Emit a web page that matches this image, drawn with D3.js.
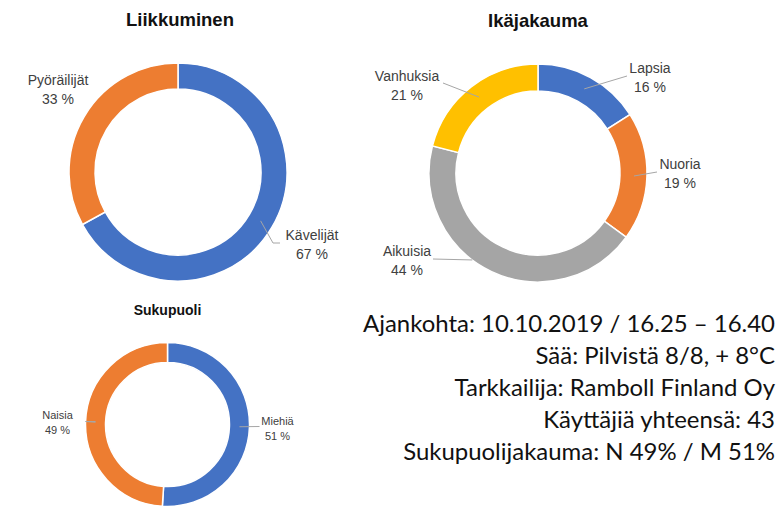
<!DOCTYPE html>
<html>
<head>
<meta charset="utf-8">
<script src="https://cdn.jsdelivr.net/npm/d3@7"></script>
<style>
  html, body { margin: 0; padding: 0; background: #fff; }
  svg { display: block; }
</style>
</head>
<body>
<svg id="chart" width="782" height="507"></svg>
<script>
// Liikkuminen (mode of travel)
const moveLabels = ["Kävelijät", "Pyöräilijät"];
const moveValues = [67, 33];
const moveColors = ["#4472C4", "#ED7D31"];

// Ikäjakauma (age distribution)
const ageLabels = ["Lapsia", "Nuoria", "Aikuisia", "Vanhuksia"];
const ageValues = [16, 19, 44, 21];
const ageColors = ["#4472C4", "#ED7D31", "#A5A5A5", "#FFC000"];

// Sukupuoli (gender)
const genderLabels = ["Miehiä", "Naisia"];
const genderValues = [51, 49];
const genderColors = ["#4472C4", "#ED7D31"];

// Info lines
const infoLines = [
  "Ajankohta: 10.10.2019 / 16.25 – 16.40",
  "Sää: Pilvistä 8/8, + 8°C",
  "Tarkkailija: Ramboll Finland Oy",
  "Käyttäjiä yhteensä: 43",
  "Sukupuolijakauma: N 49% / M 51%"
];

const svg = d3.select("#chart");
const FONT = "Liberation Sans, Arial, sans-serif";

function donut(cfg) {
  const g = svg.append("g").attr("transform", `translate(${cfg.cx},${cfg.cy})`);
  const data = cfg.labels.map((l, i) => ({ label: l, value: cfg.values[i], color: cfg.colors[i] }));
  const pie = d3.pie().sort(null).value(d => d.value);
  const arcs = pie(data);
  const arc = d3.arc().innerRadius(cfg.inner).outerRadius(cfg.outer);
  const mid = d3.arc().innerRadius(cfg.anchorR).outerRadius(cfg.anchorR);

  g.selectAll("path.slice").data(arcs).join("path")
    .attr("class", "slice")
    .attr("d", arc)
    .attr("fill", d => d.data.color)
    .attr("stroke", "#fff")
    .attr("stroke-width", 1.5);

  svg.append("text")
    .attr("x", cfg.cx + (cfg.titleDx || 0))
    .attr("y", cfg.titleY)
    .attr("text-anchor", "middle")
    .attr("font-family", FONT)
    .attr("font-weight", "bold")
    .attr("font-size", cfg.titleSize)
    .attr("fill", "#111")
    .text(cfg.title);

  arcs.forEach((a, i) => {
    const L = cfg.labelPos[i];
    // leader line from the slice to the label
    if (L.leader) {
      let start;
      if (L.anchorAngle !== undefined) {
        const ang = L.anchorAngle * 2 * Math.PI;
        start = [Math.sin(ang) * cfg.outer, -Math.cos(ang) * cfg.outer];
      } else {
        start = mid.centroid(a);
      }
      const pts = [start].concat(L.leader.map(p => [p[0], p[1]]));
      g.append("path")
        .attr("d", d3.line()(pts))
        .attr("fill", "none")
        .attr("stroke", "#A6A6A6")
        .attr("stroke-width", 1);
    }
    const t = g.append("text")
      .attr("text-anchor", "middle")
      .attr("font-family", FONT)
      .attr("font-size", cfg.labelSize)
      .attr("fill", "#404040");
    t.append("tspan").attr("x", L.x).attr("y", L.y).text(a.data.label);
    t.append("tspan").attr("x", L.x).attr("y", L.y + cfg.lineGap).text(a.data.value + " %");
  });
}

donut({
  title: "Liikkuminen", titleY: 26, titleSize: 18.5, titleDx: 2,
  cx: 178, cy: 172, outer: 109, inner: 83, anchorR: 96,
  labels: moveLabels, values: moveValues, colors: moveColors,
  labelSize: 14, lineGap: 19,
  labelPos: [
    { x: 134, y: 68, leader: [[95, 71], [102, 71]] },
    { x: -120, y: -87 }
  ]
});

donut({
  title: "Ikäjakauma", titleY: 27, titleSize: 18.5,
  cx: 538, cy: 173, outer: 109, inner: 82, anchorR: 96,
  labels: ageLabels, values: ageValues, colors: ageColors,
  labelSize: 14, lineGap: 19,
  labelPos: [
    { x: 112, y: -100, leader: [[89, -97]] },
    { x: 142, y: -4, leader: [[119, -1]] },
    { x: -131, y: 83, anchorAngle: 0.603, leader: [[-105, 86]] },
    { x: -131, y: -92, leader: [[-95, -90]] }
  ]
});

donut({
  title: "Sukupuoli", titleY: 315, titleSize: 14,
  cx: 167.5, cy: 424.5, outer: 82, inner: 62, anchorR: 72,
  labels: genderLabels, values: genderValues, colors: genderColors,
  labelSize: 11, lineGap: 15,
  labelPos: [
    { x: 110, y: 0, leader: [[92, 2]] },
    { x: -110, y: -6, leader: [[-82, -3], [-72, -3]] }
  ]
});

// Info block, right aligned
const info = svg.append("g");
const infoFont = "Lato, 'Open Sans', sans-serif";
const infoRight = 775;
const probe = info.append("text").attr("font-family", infoFont).attr("font-size", 24).text(infoLines[0]);
const w = probe.node().getComputedTextLength();
probe.remove();
const infoSize = 24 * 412 / w;
info.selectAll("text").data(infoLines).join("text")
  .attr("x", infoRight)
  .attr("y", (d, i) => 332 + i * 32)
  .attr("text-anchor", "end")
  .attr("font-family", infoFont)
  .attr("font-size", infoSize)
  .attr("fill", "#111")
  .text(d => d);
</script>
</body>
</html>
